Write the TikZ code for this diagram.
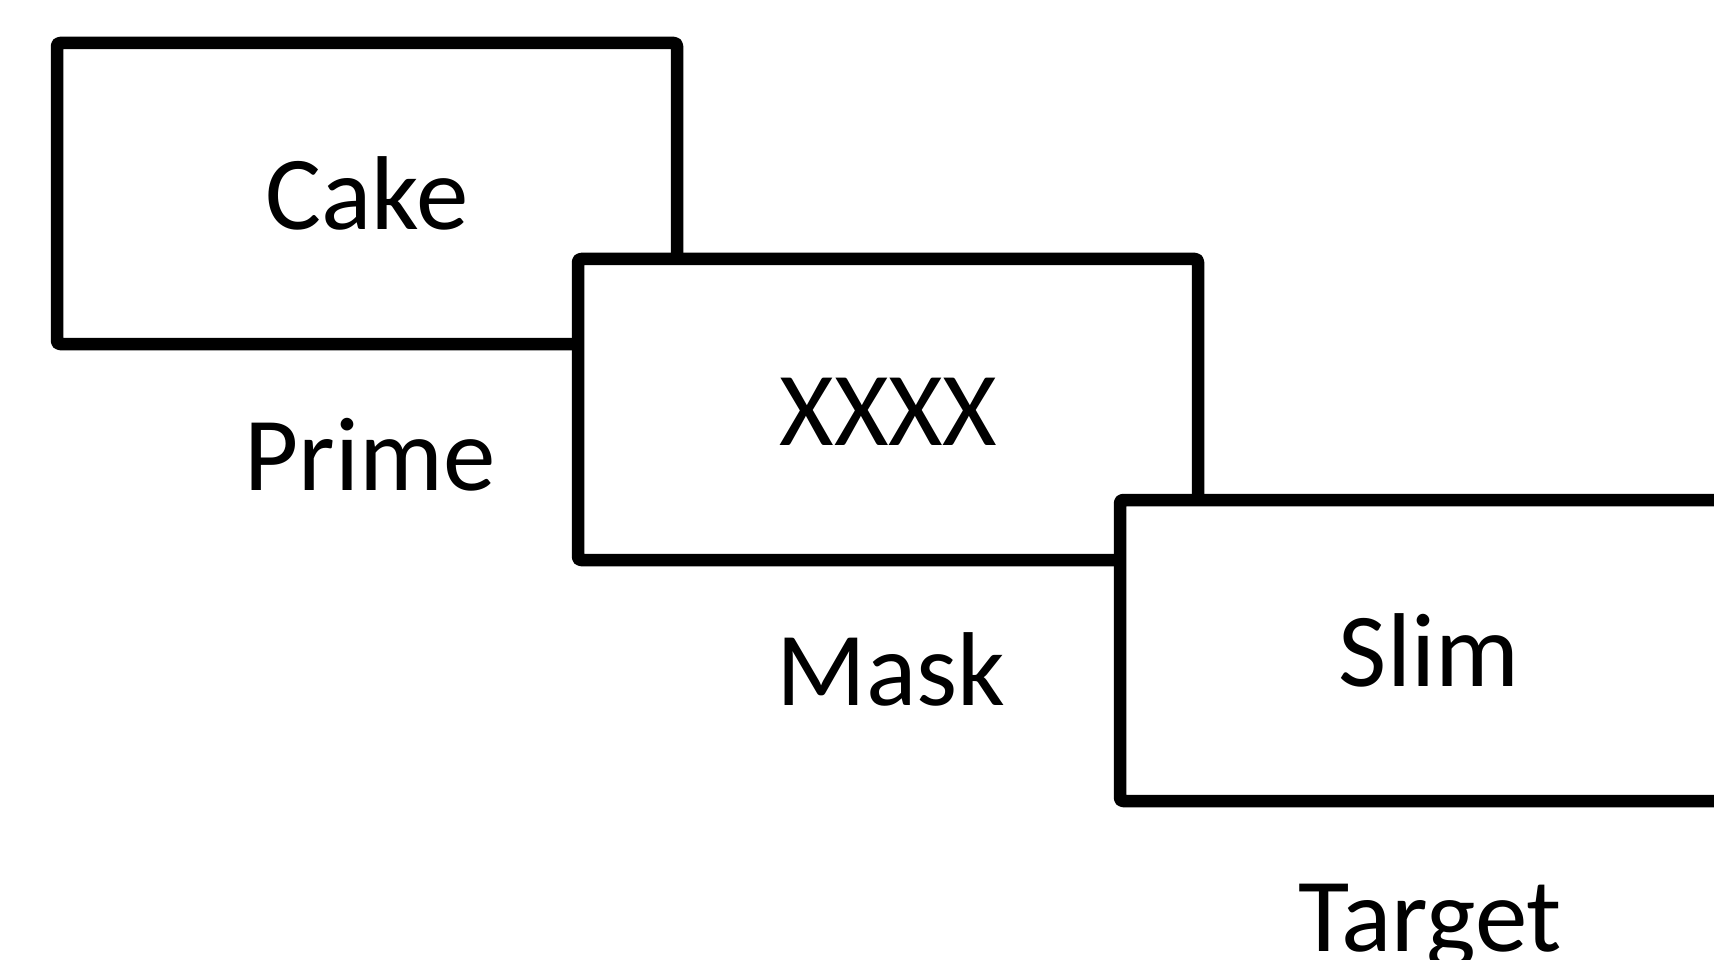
\documentclass[tikz,border=0pt]{standalone}
\usepackage{fontspec}
\setmainfont{Carlito}
\begin{document}
\begin{tikzpicture}[x=1pt,y=-1pt,
  panel/.style={draw=black, fill=white, line width=12.5pt, line join=round, rounded corners=3pt,
    minimum width=620pt, minimum height=301pt, inner sep=0pt, outer sep=0pt},
  word/.style={anchor=base, inner sep=0pt, font=\fontsize{105}{126}\selectfont}]
\useasboundingbox (0,0) rectangle (1714,960);
\clip (0,0) rectangle (1714,960);
\node[panel] (b1) at (367,193.5) {};
\node[panel] (b2) at (888,409.5) {};
\node[panel] (b3) at (1430,650.5) {};
\node[word] (cake) at (367,229.5) {Cake};
\node[word] (prime) at (370,490) {Prime};
\node[word] (xxxx) at (888.5,445) {XXXX};
\node[word] (mask) at (891,705) {Mask};
\node[word] (slim) at (1429,686) {Slim};
\node[word] (target) at (1430,951) {Target};
\end{tikzpicture}
\end{document}
